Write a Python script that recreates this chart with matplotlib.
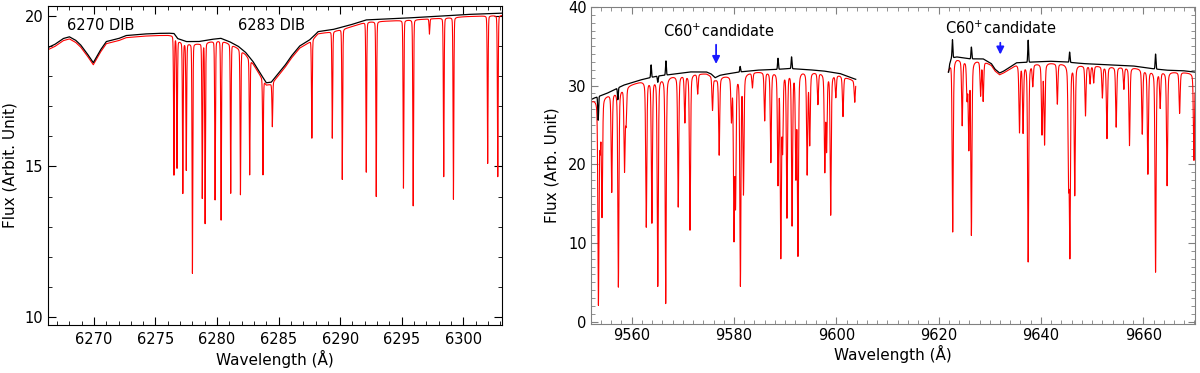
import numpy as np
import matplotlib
matplotlib.use('Agg')
import matplotlib.pyplot as plt
from matplotlib.ticker import MultipleLocator

plt.rcParams['font.family'] = ['DejaVu Sans']

# ---------------- left panel: 6270 / 6283 DIBs ----------------
# continuum of the corrected (black) spectrum
left_knot_wl = [6266.0, 6266.8, 6267.5, 6268.0, 6268.5, 6268.9, 6269.4, 6269.95, 6270.5,
                6271.0, 6272.0, 6272.6, 6274.0, 6275.0, 6276.0, 6276.5, 6276.8, 6277.5,
                6278.5, 6279.5, 6280.3, 6281.0, 6281.7, 6282.3, 6282.9, 6283.5, 6284.0,
                6284.4, 6285.0, 6285.5, 6286.0, 6286.7, 6287.5, 6287.9, 6288.2, 6289.4,
                6290.8, 6292.1, 6294.8, 6297.5, 6300.2, 6303.5]
left_knot_flux = [18.9, 19.05, 19.25, 19.31, 19.2, 19.05, 18.78, 18.45, 18.85,
                  19.15, 19.25, 19.35, 19.4, 19.42, 19.43, 19.42, 19.25, 19.15,
                  19.15, 19.22, 19.26, 19.15, 19.0, 18.8, 18.5, 18.1, 17.78,
                  17.8, 18.1, 18.35, 18.65, 19.0, 19.2, 19.35, 19.48, 19.55,
                  19.7, 19.87, 19.92, 19.98, 20.05, 20.1]
# telluric O2 lines in the uncorrected (red) spectrum: centre and minimum flux
left_line_wl = [6276.5, 6276.75, 6277.22, 6277.5, 6278.0, 6278.8, 6279.03, 6279.84,
                6280.33, 6281.11, 6281.9, 6282.65, 6283.73, 6284.49, 6287.7, 6289.36,
                6290.17, 6292.12, 6292.93, 6295.14, 6295.93, 6297.25, 6298.41, 6299.2,
                6301.98, 6302.8]
left_line_min = [14.72, 14.95, 14.11, 14.88, 11.45, 13.95, 13.11, 13.89,
                 13.22, 14.11, 14.06, 14.72, 14.72, 16.32, 15.94, 15.94,
                 14.57, 14.81, 14.0, 14.28, 13.69, 19.4, 14.66, 13.91,
                 15.1, 14.66]
left_ticks = [6270, 6275, 6280, 6285, 6290, 6295, 6300]

# ---------------- right panel: C60+ candidates ----------------
seg1_knot_wl = [9552.0, 9552.6, 9555.1, 9558.4, 9561.6, 9564.9, 9568.1, 9571.4, 9574.6,
                9575.5, 9576.3, 9577.2, 9577.9, 9581.2, 9584.4, 9587.7, 9590.9, 9594.2,
                9597.4, 9600.7, 9603.3, 9603.8]
seg1_knot_flux = [28.2, 28.4, 29.0, 30.05, 30.7, 31.2, 31.45, 31.74, 31.74,
                  31.5, 31.0, 31.3, 31.4, 31.74, 31.96, 32.04, 32.17, 32.04,
                  31.87, 31.54, 30.9, 30.8]
seg2_knot_wl = [9621.9, 9622.5, 9623.5, 9626.1, 9628.7, 9630.3, 9631.0, 9631.9, 9632.6,
                9633.6, 9635.2, 9638.4, 9641.7, 9645.0, 9648.2, 9651.5, 9654.7, 9658.0,
                9661.2, 9664.5, 9667.7, 9670.3]
seg2_knot_flux = [32.2, 33.5, 33.65, 33.4, 33.4, 32.8, 32.1, 31.6, 31.8,
                  32.2, 32.9, 33.0, 33.1, 33.0, 32.8, 32.7, 32.6, 32.5,
                  32.2, 31.96, 31.9, 31.7]
# water lines in the red spectrum
right_line_wl = [9553.5, 9553.85, 9554.2, 9556.1, 9557.4, 9558.6, 9558.9, 9562.85, 9563.95,
                 9565.1, 9566.65, 9569.1, 9570.4, 9571.4, 9572.9, 9575.8, 9577.1, 9579.5,
                 9580.0, 9580.3, 9581.25, 9581.85, 9583.6, 9586.0, 9587.2, 9588.6, 9589.15,
                 9589.5, 9590.35, 9591.35, 9592.1, 9592.5, 9594.3, 9594.8, 9596.4, 9597.75,
                 9598.1, 9598.9, 9599.9, 9601.3, 9603.6,
                 9622.75, 9624.6, 9625.55, 9625.9, 9626.4, 9628.2, 9628.7, 9635.8, 9636.5,
                 9637.5, 9638.4, 9640.2, 9640.7, 9643.2, 9645.4, 9645.65, 9646.6, 9648.7,
                 9649.6, 9650.3, 9652.0, 9652.9, 9654.7, 9656.2, 9657.3, 9659.8, 9660.9,
                 9662.4, 9663.3, 9664.65, 9667.1, 9669.9]
right_line_min = [2.1, 22.7, 13.5, 16.5, 4.4, 19.25, 25.4, 12.05, 12.6,
                  4.5, 2.3, 14.6, 25.4, 11.65, 29.0, 26.9, 21.2, 25.8,
                  10.6, 15.0, 4.55, 16.35, 29.8, 25.6, 20.3, 17.6, 8.2,
                  22.2, 13.3, 12.3, 18.6, 8.45, 18.8, 22.6, 27.7, 19.25,
                  22.0, 13.6, 28.6, 26.1, 27.9,
                  11.4, 25.0, 28.6, 22.2, 11.05, 28.8, 28.1, 24.1, 24.1,
                  7.6, 30.05, 23.9, 22.6, 27.7, 18.2, 8.45, 16.1, 26.2,
                  30.3, 30.4, 28.5, 23.3, 24.75, 29.6, 22.4, 23.9, 18.8,
                  6.3, 27.3, 17.3, 26.5, 20.5]
# residual spikes / dips left in the corrected (black) spectrum
resid_wl = [9553.45, 9557.3, 9563.8, 9565.1, 9566.7, 9581.2, 9588.6, 9591.25,
            9621.95, 9622.7, 9626.4, 9637.5, 9645.6, 9662.4]
resid_amp = [-3.0, -1.5, 1.6, -0.8, 1.8, 0.7, 1.4, 1.5,
             -0.6, 2.3, 1.5, 2.8, 1.3, 1.9]
right_ticks = [9560, 9580, 9600, 9620, 9640, 9660]
c60_wl = [9576.5, 9632.05]


def continuum(wl, kx, ky):
    return np.interp(wl, kx, ky)


def absorb(wl, cont, lx, lmin, sig, hw):
    trans = np.ones_like(wl)
    for x0, m in zip(lx, lmin):
        d = 1.0 - m / np.interp(x0, wl, cont)
        prof = 0.6 * np.exp(-0.5 * ((wl - x0) / sig) ** 2) + 0.4 * hw ** 2 / ((wl - x0) ** 2 + hw ** 2)
        trans *= 1.0 - d * prof
    return cont * trans


def residuals(wl, flux, rx, ra, sig=0.08):
    out = flux.copy()
    for x0, a in zip(rx, ra):
        out += a * np.exp(-0.5 * ((wl - x0) / sig) ** 2)
    return out


fig = plt.figure(figsize=(12, 3.73), dpi=100)
ax1 = fig.add_axes([0.04, 0.1287, 0.3783, 0.855])
ax2 = fig.add_axes([0.4925, 0.1314, 0.5033, 0.85])

# left
wl = np.arange(6266.0, 6303.5, 0.005)
black = continuum(wl, left_knot_wl, left_knot_flux)
red = absorb(wl, black - 0.07, left_line_wl, left_line_min, 0.035, 0.02)
ax1.plot(wl, red, color='red', lw=0.8)
ax1.plot(wl, black, color='black', lw=0.9)
ax1.text(6267.8, 19.67, '6270 DIB', fontsize=10.5, va='center')
ax1.text(6281.7, 19.67, '6283 DIB', fontsize=10.5, va='center')
ax1.set_xlim(6266.27, 6303.14)
ax1.set_ylim(9.73, 20.33)
ax1.set_xticks(left_ticks)
ax1.set_yticks([10, 15, 20])
ax1.xaxis.set_minor_locator(MultipleLocator(1))
ax1.yaxis.set_minor_locator(MultipleLocator(1))
ax1.tick_params(which='both', direction='in', top=True, right=True, labelsize=10.5)
ax1.tick_params(which='major', length=5.5)
ax1.tick_params(which='minor', length=3)
ax1.tick_params(axis='x', pad=5)
ax1.set_xlabel('Wavelength (Å)', fontsize=11, labelpad=2)
ax1.set_ylabel('Flux (Arbit. Unit)', fontsize=11, labelpad=5)

# right
for kx, ky in [(seg1_knot_wl, seg1_knot_flux), (seg2_knot_wl, seg2_knot_flux)]:
    w = np.arange(kx[0], kx[-1], 0.01)
    cont = continuum(w, kx, ky)
    red = absorb(w, cont - 0.2, right_line_wl, right_line_min, 0.11, 0.12)
    black = residuals(w, cont, resid_wl, resid_amp)
    ax2.plot(w, red, color='red', lw=0.8)
    ax2.plot(w, black, color='black', lw=0.9)

ax2.text(9577.05, 36.95, 'C60$^{+}$candidate', fontsize=10.5, ha='center', va='center')
ax2.text(9632.1, 37.25, 'C60$^{+}$candidate', fontsize=10.5, ha='center', va='center')
ax2.annotate('', xy=(c60_wl[0], 32.4), xytext=(c60_wl[0], 35.55),
             arrowprops=dict(arrowstyle='-|>', color='#1a1aff', lw=1.3, mutation_scale=11))
ax2.annotate('', xy=(c60_wl[1], 33.6), xytext=(c60_wl[1], 35.8),
             arrowprops=dict(arrowstyle='-|>', color='#1a1aff', lw=1.3, mutation_scale=11))
ax2.set_xlim(9552.05, 9670.1)
ax2.set_ylim(-0.3, 40.0)
ax2.set_xticks(right_ticks)
ax2.set_yticks([0, 10, 20, 30, 40])
ax2.xaxis.set_minor_locator(MultipleLocator(2))
ax2.yaxis.set_minor_locator(MultipleLocator(1))
ax2.tick_params(which='both', direction='in', top=True, right=True, labelsize=10.5,
                color='#808080')
ax2.tick_params(which='major', length=5)
ax2.tick_params(which='minor', length=3)
ax2.tick_params(axis='y', pad=3)
ax2.tick_params(axis='x', pad=3)
for s in ax2.spines.values():
    s.set_color('#808080')
ax2.set_xlabel('Wavelength (Å)', fontsize=11, labelpad=1)
ax2.set_ylabel('Flux (Arb. Unit)', fontsize=11, labelpad=6)

fig.savefig('out.png', dpi=100)
